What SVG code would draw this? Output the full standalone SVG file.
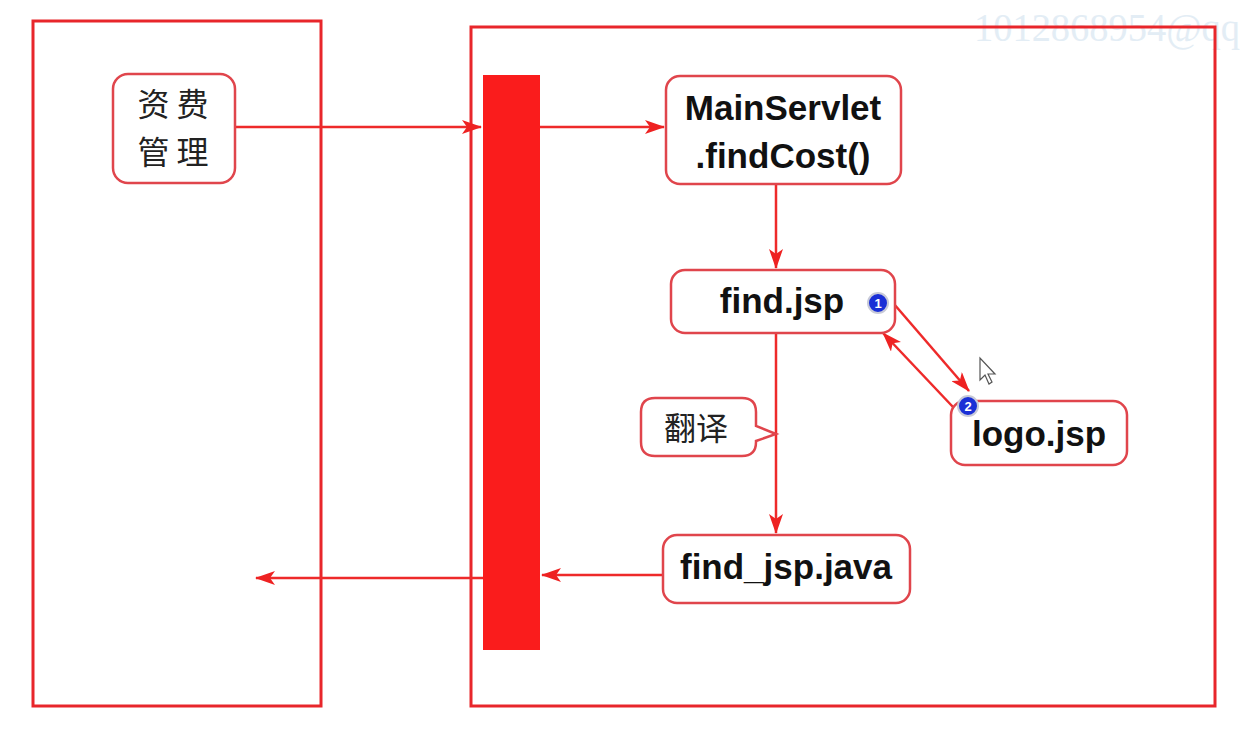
<svg xmlns="http://www.w3.org/2000/svg" width="1244" height="742" viewBox="0 0 1244 742">
<defs>
<marker id="ah" viewBox="0 0 20 14" refX="19" refY="7" markerWidth="20" markerHeight="14" markerUnits="userSpaceOnUse" orient="auto">
<path d="M0,0 L20,7 L0,14 L5,7 Z" fill="#ee2222"/>
</marker>
<style>
.frame{fill:none;stroke:#e8262b;stroke-width:3}
.node{fill:#ffffff;stroke:#e0454c;stroke-width:2.5}
.conn{fill:none;stroke:#ee2a2a;stroke-width:2.5;marker-end:url(#ah)}
.lbl{font-family:"Liberation Sans",Arial,sans-serif;font-weight:bold;font-size:35px;fill:#111;text-anchor:middle}
.cjk{font-family:"Noto Sans CJK SC","Liberation Sans",sans-serif;font-size:32px;fill:#222;text-anchor:middle}
.badge{fill:#1a2fd6;stroke:#c8cad8;stroke-width:2}
.bt{font-family:"Liberation Sans",Arial,sans-serif;font-weight:bold;font-size:13px;fill:#fff;text-anchor:middle}
</style>
</defs>
<rect width="1244" height="742" fill="#ffffff"/>
<text x="974" y="41" font-family="Liberation Serif,serif" font-size="39" fill="#e3edf5" textLength="266" lengthAdjust="spacingAndGlyphs">1012868954@qq</text>
<g id="frames">
<rect class="frame" x="33" y="21" width="288" height="685"/>
<rect class="frame" x="471" y="27" width="744" height="679"/>
</g>
<g id="bar">
<rect x="483" y="75" width="57" height="575" fill="#fa1c1c"/>
</g>
<g id="connectors">
<line class="conn" x1="235" y1="127" x2="481" y2="127"/>
<line class="conn" x1="540" y1="127" x2="664" y2="127"/>
<line class="conn" x1="776" y1="184" x2="776" y2="268"/>
<line class="conn" x1="776" y1="333" x2="776" y2="533"/>
<line class="conn" x1="894" y1="304" x2="969" y2="391"/>
<line class="conn" x1="953" y1="407" x2="883" y2="333"/>
<line class="conn" x1="663" y1="575" x2="542" y2="575"/>
<line class="conn" x1="483" y1="578" x2="256" y2="578"/>
</g>
<g id="node-zifei">
<rect class="node" x="113" y="74" width="122" height="109" rx="15"/>
<text class="cjk" x="173" y="116">资 费</text>
<text class="cjk" x="173" y="164">管 理</text>
</g>
<g id="node-mainservlet">
<rect class="node" x="666" y="76" width="235" height="108" rx="14"/>
<text class="lbl" x="783" y="120">MainServlet</text>
<text class="lbl" x="783" y="168">.findCost()</text>
</g>
<g id="node-findjsp">
<rect class="node" x="671" y="270" width="224" height="63" rx="14"/>
<text class="lbl" x="782" y="313">find.jsp</text>
<circle class="badge" cx="878" cy="303" r="10"/>
<text class="bt" x="878" y="308">1</text>
</g>
<g id="node-logojsp">
<rect class="node" x="951" y="401" width="176" height="64" rx="14"/>
<text class="lbl" x="1039" y="446">logo.jsp</text>
<circle class="badge" cx="968" cy="406" r="10"/>
<text class="bt" x="968" y="411">2</text>
</g>
<g id="callout-fanyi">
<path class="node" d="M655,398 H742 Q756,398 756,412 V426 L776,434 L756,441 V442 Q756,456 742,456 H655 Q641,456 641,442 V412 Q641,398 655,398 Z"/>
<text class="cjk" x="696" y="440">翻译</text>
</g>
<g id="node-findjspjava">
<rect class="node" x="663" y="535" width="247" height="68" rx="14"/>
<text class="lbl" x="786" y="579">find_jsp.java</text>
</g>
<g id="cursor">
<path d="M980,358 L980,380 L985,375 L989,384 L992,382 L988,374 L995,374 Z" fill="#ffffff" stroke="#555" stroke-width="1.2"/>
</g>
</svg>
